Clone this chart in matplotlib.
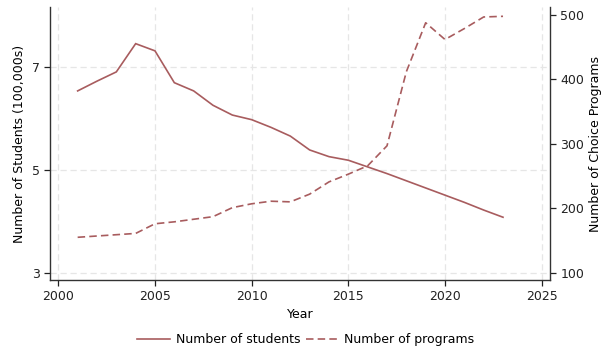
import matplotlib
matplotlib.use("Agg")
import matplotlib.pyplot as plt
from matplotlib.lines import Line2D

years = list(range(2001, 2024))
students = [6.54, 6.73, 6.91, 7.46, 7.32, 6.70, 6.54, 6.26, 6.07, 5.98, 5.83,
            5.66, 5.39, 5.26, 5.19, 5.06, 4.93, 4.79, 4.65, 4.51, 4.37, 4.22, 4.08]
programs = [155, 157, 159, 161, 176, 179, 183, 187, 201, 207, 211,
            210, 222, 241, 253, 266, 297, 412, 488, 462, 479, 497, 498]

left_ticks = [3, 5, 7]
right_ticks = [100, 200, 300, 400, 500]
x_ticks = [2000, 2005, 2010, 2015, 2020, 2025]

color = "#a85c5e"
plt.rcParams["font.family"] = ["DejaVu Sans"]
plt.rcParams["font.size"] = 9

fig = plt.figure(figsize=(6.02, 3.46), dpi=100)
ax = fig.add_axes([50 / 602, 1 - 280 / 346, 500 / 602, 272.7 / 346])
ax2 = ax.twinx()

ax.plot(years, students, color=color, lw=1.2, solid_joinstyle="miter")
ax2.plot(years, programs, color=color, lw=1.2, dashes=(4.5, 2.5))

ax.set_xlim(1999.57, 2025.43)
ax.set_ylim(2.858, 8.168)
ax2.set_ylim(88.7, 512)
ax.set_xticks(x_ticks)
ax.set_yticks(left_ticks)
ax2.set_yticks(right_ticks)

grid_kw = dict(color="#e6e6e6", lw=0.9, ls=(0, (5, 3)))
ax.grid(True, **grid_kw)
ax.set_axisbelow(True)

for a in (ax, ax2):
    a.spines["top"].set_visible(False)
    for s in ("left", "right", "bottom"):
        a.spines[s].set_color("#333333")
        a.spines[s].set_linewidth(1.0)
    a.tick_params(colors="#222222", length=4, width=0.9, labelsize=9)
ax.spines["right"].set_visible(False)
ax2.spines["left"].set_visible(False)
ax2.spines["bottom"].set_visible(False)

ax.set_xlabel("Year", fontsize=9, labelpad=3)
ax.set_ylabel("Number of Students (100,000s)", fontsize=9, labelpad=4)
ax2.set_ylabel("Number of Choice Programs", fontsize=9, labelpad=3)

handles = [Line2D([], [], color=color, lw=1.2),
           Line2D([], [], color=color, lw=1.2, dashes=(4.5, 2.5))]
fig.legend(handles, ["Number of students", "Number of programs"],
           loc="center", bbox_to_anchor=(306 / 602, 1 - 339.5 / 346), ncol=2,
           frameon=False, fontsize=9, handlelength=2.6, columnspacing=0.4,
           handletextpad=0.5)

fig.savefig("out.png", dpi=100)
